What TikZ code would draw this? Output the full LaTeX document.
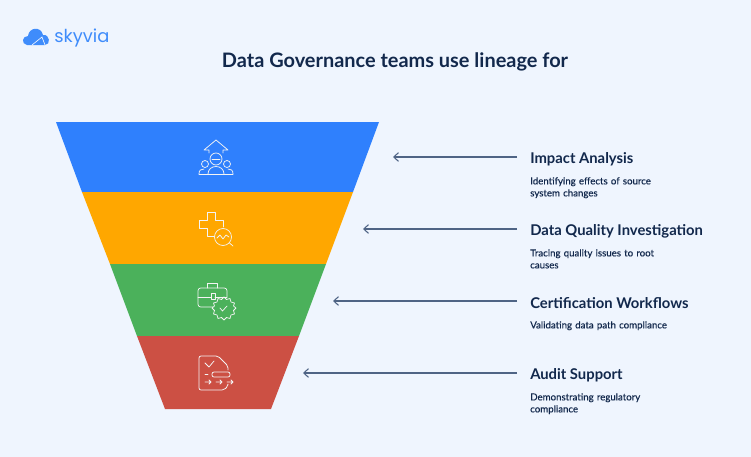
\documentclass[tikz,border=0pt]{standalone}
\usepackage{tikz}
\usepackage{xcolor}
\usepackage{fontspec}
\usetikzlibrary{arrows.meta}
\setmainfont{Lato}
\newfontfamily\logofont{Poppins}
\newfontfamily\subfont[FakeBold=0.35]{Lato}
\definecolor{pagebg}{HTML}{EFF5FE}
\definecolor{navy}{HTML}{12284C}
\definecolor{linegray}{HTML}{4F6485}
\definecolor{bandblue}{HTML}{2F80FD}
\definecolor{bandorange}{HTML}{FFA700}
\definecolor{bandgreen}{HTML}{4BB15B}
\definecolor{bandred}{HTML}{CC5044}
\definecolor{logoblue}{HTML}{3F8CFB}
\definecolor{iconline}{HTML}{F4F4F4}
\tikzset{
  headlabel/.style={anchor=west, inner xsep=9.75pt, inner ysep=0pt, text=navy, font=\fontsize{11.1}{13}\selectfont\bfseries},
  sublabel/.style={anchor=north west, inner sep=0pt, text=navy, text width=110pt, align=left, font=\subfont\fontsize{7.25}{9}\selectfont},
  icon/.style={draw=iconline, line width=0.55pt, line join=round, line cap=round},
}
\begin{document}
\begin{tikzpicture}[x=0.75pt, y=-0.75pt, >={Straight Barb[length=3.5pt,width=6.5pt]}]
\useasboundingbox (0,0) rectangle (751,457);
\fill[pagebg] (0,0) rectangle (751,457);

% Logo
\fill[logoblue] (27,45) .. controls (21,44) and (22,36) .. (28,36) .. controls (29,27) and (41,26) .. (43,35) .. controls (50,34) and (51,45) .. (45,45) -- cycle;
\draw[pagebg, line width=0.5pt] (32,45) -- (42,37) -- (45,45);
\node[anchor=west, inner sep=0pt, text=logoblue, font=\logofont\fontsize{13.4}{16}\selectfont] (logo) at (54,38.5) {skyvia};

% Title
\node[text=navy, inner sep=0pt, font=\fontsize{14.95}{18}\selectfont\bfseries] (title) at (395,62) {Data Governance teams use lineage for};

% Funnel
\fill[bandblue] (56,122) -- (379,122) -- (353,192) -- (82,192) -- cycle;
\fill[bandorange] (82,192) -- (353,192) -- (326,264) -- (110,264) -- cycle;
\fill[bandgreen] (110,264) -- (326,264) -- (299,336) -- (137,336) -- cycle;
\fill[bandred] (137,336) -- (299,336) -- (271,409) -- (165,409) -- cycle;

% Icons
\draw[icon] (209,153) -- (209,150) -- (204,150) -- (216,140) -- (228,150) -- (223,150) -- (223,153);
\draw[icon] (216,159) circle (6);
\draw[icon] (212,159) -- (220,159);
\draw[icon] (205,164) circle (3.5);
\draw[icon] (227,164) circle (3.5);
\draw[icon] (208,174) .. controls (208,164) and (224,164) .. (224,174);
\draw[icon] (199,174) .. controls (199,170) and (201,169) .. (204,169);
\draw[icon] (199,174) -- (233,174);
\draw[icon] (233,174) .. controls (233,170) and (231,169) .. (228,169);

\draw[icon] (214,236) -- (207,236) -- (207,228) -- (199,228) -- (199,220) -- (207,220) -- (207,212) -- (215,212) -- (215,220) -- (223,220) -- (223,227);
\draw[icon] (223,237) circle (8.5);
\draw[icon] (217,238) -- (220,235) -- (223,239) -- (226,235) -- (229,237);
\draw[icon] (229.5,243) -- (233,246);

\draw[icon] (207,288) -- (207,283) -- (217,283) -- (217,288);
\draw[icon, rounded corners=2pt] (213,307) -- (198,307) -- (198,288) -- (227,288) -- (227,297);
\draw[icon] (198,297) -- (211,297) (215,297) -- (227,297);
\draw[icon] (211,293) rectangle (215,299);
\draw[icon] (224,297) -- (226.5,299.5) -- (230,298.5) -- (231,302) -- (234.5,303) -- (233.5,306) -- (236,308) -- (233.5,310.5) -- (234.5,314) -- (231,315) -- (230,318.5) -- (226.5,317.5) -- (224,320) -- (221.5,317.5) -- (218,318.5) -- (217,315) -- (213.5,314) -- (214.5,310.5) -- (212,308) -- (214.5,306) -- (213.5,303) -- (217,302) -- (218,298.5) -- (221.5,299.5) -- cycle;
\draw[icon] (220,308) -- (222.5,311) -- (227,306);

\draw[icon, rounded corners=1.5pt] (228,370) -- (228,366) -- (218,356) -- (199,356) -- (199,390) -- (224,390) -- (228,386) -- (228,385);
\draw[icon] (205,363) -- (209,367) -- (214,361);
\draw[icon] (205,374) -- (208,374);
\draw[icon, rounded corners=1.5pt] (212,372) rectangle (230,377);
\draw[icon] (205,382) -- (211,382) (209,380) -- (211,382) -- (209,384);
\draw[icon] (216,382) -- (222,382) (220,380) -- (222,382) -- (220,384);
\draw[icon] (227,382) -- (233,382) (231,380) -- (233,382) -- (231,384);

% Labels
\node[headlabel] (impact) at (517,159) {Impact Analysis};
\node[sublabel] (impactsub) at (530,177) {Identifying effects of source\\system changes};
\node[headlabel] (quality) at (517,231) {Data Quality Investigation};
\node[sublabel] (qualitysub) at (530,249) {Tracing quality issues to root\\causes};
\node[headlabel] (workflow) at (517,303) {Certification Workflows};
\node[sublabel] (workflowsub) at (530,321) {Validating data path compliance};
\node[headlabel] (audit) at (517,375) {Audit Support};
\node[sublabel] (auditsub) at (530,393) {Demonstrating regulatory\\compliance};

% Arrows
\coordinate (impacttip) at (393,157);
\coordinate (qualitytip) at (363,229);
\coordinate (workflowtip) at (333,301);
\coordinate (audittip) at (303,373);
\draw[->, linegray, line width=0.8pt] (impact.west |- impacttip) -- (impacttip);
\draw[->, linegray, line width=0.8pt] (quality.west |- qualitytip) -- (qualitytip);
\draw[->, linegray, line width=0.8pt] (workflow.west |- workflowtip) -- (workflowtip);
\draw[->, linegray, line width=0.8pt] (audit.west |- audittip) -- (audittip);

\end{tikzpicture}
\end{document}
